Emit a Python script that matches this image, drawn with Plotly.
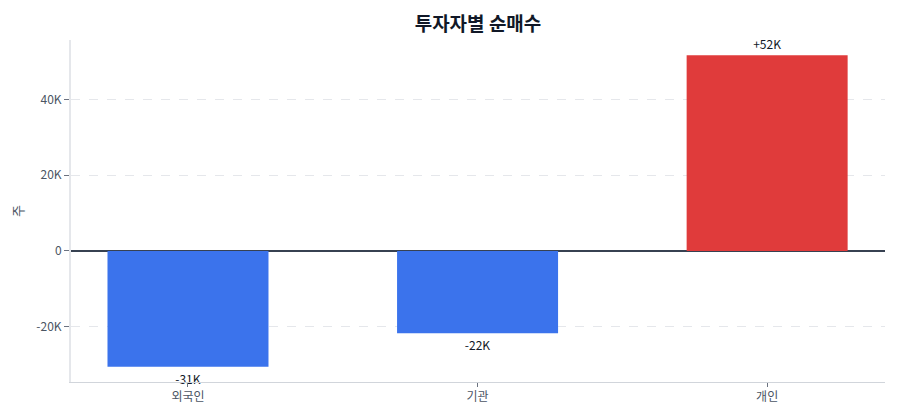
import plotly.graph_objects as go

investors = ["외국인", "기관", "개인"]
net_buy = [-30600, -21700, 51700]
bar_labels = ["-31K", "-22K", "+52K"]
bar_colors = ["#3b73ec", "#3b73ec", "#e03b3b"]

FONT = "Noto Sans CJK KR"

fig = go.Figure(
    go.Bar(
        x=investors,
        y=net_buy,
        text=bar_labels,
        textposition="outside",
        cliponaxis=False,
        textfont=dict(size=12, color="#111827", family=FONT),
        marker=dict(color=bar_colors, line=dict(width=0)),
        width=0.556,
        hovertemplate="%{x}: %{y:,}<extra></extra>",
    )
)

# the page adds an 8px body margin, so margins are trimmed to land the plot area
fig.update_layout(
    title=dict(
        text="<b>투자자별 순매수</b>",
        x=0.5,
        xref="paper",
        xanchor="center",
        y=0.962,
        yanchor="middle",
        font=dict(size=19, color="#111827", family=FONT),
    ),
    font=dict(family=FONT, size=12, color="#4b5563"),
    plot_bgcolor="white",
    paper_bgcolor="white",
    width=900,
    height=420,
    margin=dict(l=63, r=23, t=32, b=46),
    showlegend=False,
    xaxis=dict(
        range=[-0.404, 2.407],
        showline=True,
        linecolor="#d1d5db",
        linewidth=1,
        ticks="outside",
        ticklen=4,
        tickcolor="#6b7280",
        showgrid=False,
        automargin=False,
        tickfont=dict(size=12, color="#4b5563"),
    ),
    yaxis=dict(
        title=dict(text="주", font=dict(size=13, color="#4b5563")),
        automargin=False,
        range=[-34600, 55700],
        tickvals=[-20000, 0, 20000, 40000],
        ticktext=["-20K", "0", "20K", "40K"],
        showline=True,
        linecolor="#e5e7eb",
        linewidth=2,
        ticks="outside",
        ticklen=5,
        tickcolor="#6b7280",
        showgrid=True,
        gridcolor="#e5e7eb",
        griddash="dash",
        zeroline=True,
        zerolinecolor="#374151",
        zerolinewidth=1.5,
        tickfont=dict(size=12, color="#4b5563"),
    ),
)

fig.write_html("out.html")
